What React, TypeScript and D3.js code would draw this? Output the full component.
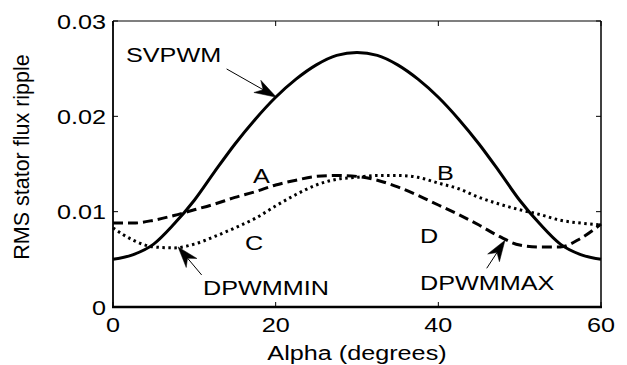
import React from "react";
import * as d3 from "d3";

// Alpha sampled every 2.5 degrees over one 60-degree sector
const alpha = [
  0, 2.5, 5, 7.5, 10, 12.5, 15, 17.5, 20, 22.5, 25, 27.5, 30,
  32.5, 35, 37.5, 40, 42.5, 45, 47.5, 50, 52.5, 55, 57.5, 60,
];

const svpwm = [
  0.005, 0.0055, 0.0066, 0.0087, 0.0112, 0.0142, 0.0171, 0.0197, 0.022, 0.0239, 0.0254, 0.0264, 0.0267,
  0.0264, 0.0254, 0.0239, 0.022, 0.0197, 0.0171, 0.0142, 0.0112, 0.0087, 0.0066, 0.0055, 0.005,
];

const dpwmmax = [
  0.0088, 0.0088, 0.0091, 0.0096, 0.0102, 0.0108, 0.0115, 0.0121, 0.0128, 0.0133, 0.0137, 0.0138, 0.0137,
  0.0133, 0.0126, 0.0117, 0.0107, 0.0097, 0.0086, 0.0074, 0.0065, 0.0063, 0.0063, 0.0072, 0.0087,
];

const dpwmmin = [
  0.0083, 0.007, 0.0063, 0.0062, 0.0066, 0.0074, 0.0083, 0.0093, 0.0106, 0.0118, 0.0128, 0.0134, 0.0136,
  0.0138, 0.0138, 0.0136, 0.013, 0.0124, 0.0115, 0.0108, 0.0102, 0.0097, 0.0091, 0.0088, 0.0086,
];

const xTicks = [0, 20, 40, 60];
const yTicks = [0, 0.01, 0.02, 0.03];
const yTickLabels = ["0", "0.01", "0.02", "0.03"];

const W = 627;
const H = 365;
const FONT = "'Liberation Sans', Arial, Helvetica, sans-serif";
const FS = 21;
const SX = 1.2;

const x = d3.scaleLinear().domain([0, 60]).range([113, 601]);
const y = d3.scaleLinear().domain([0, 0.03]).range([307, 21]);

type Pt = [number, number];

function Label({ px, py, text, anchor = "start" }: { px: number; py: number; text: string; anchor?: string }) {
  return (
    <text
      transform={`translate(${px},${py}) scale(${SX},1)`}
      textAnchor={anchor}
      fontFamily={FONT}
      fontSize={FS}
      fill="#000"
    >
      {text}
    </text>
  );
}

function Arrow({ tail, tip, len = 20, width = 14 }: { tail: Pt; tip: Pt; len?: number; width?: number }) {
  const [x1, y1] = [x(tail[0]), y(tail[1])];
  const [x2, y2] = [x(tip[0]), y(tip[1])];
  const dx = x2 - x1;
  const dy = y2 - y1;
  const L = Math.hypot(dx, dy);
  const ux = dx / L;
  const uy = dy / L;
  const nx = -uy;
  const ny = ux;
  const bx = x2 - ux * len;
  const by = y2 - uy * len;
  const notchX = x2 - ux * len * 0.7;
  const notchY = y2 - uy * len * 0.7;
  const head = `M${x2},${y2} L${bx + (nx * width) / 2},${by + (ny * width) / 2} L${notchX},${notchY} L${bx - (nx * width) / 2},${by - (ny * width) / 2} Z`;
  return (
    <g>
      <line x1={x1} y1={y1} x2={notchX} y2={notchY} stroke="#000" strokeWidth={1} />
      <path d={head} fill="#000" stroke="#000" strokeWidth={0.5} strokeLinejoin="miter" />
    </g>
  );
}

export default function App() {
  const line = d3
    .line<number>()
    .x((_, i) => x(alpha[i]))
    .y((d) => y(d))
    .curve(d3.curveMonotoneX);

  const [x0, x1] = x.range();
  const [yb, yt] = y.range();

  return (
    <svg
      width={W}
      height={H}
      viewBox={`0 0 ${W} ${H}`}
      style={{ position: "absolute", left: 0, top: 0, background: "#fff" }}
    >
      <rect x={0} y={0} width={W} height={H} fill="#fff" />

      {/* curves */}
      <path d={line(svpwm) ?? ""} fill="none" stroke="#000" strokeWidth={3} strokeLinejoin="round" />
      <path d={line(dpwmmax) ?? ""} fill="none" stroke="#000" strokeWidth={3} strokeDasharray="10,5" />
      <path d={line(dpwmmin) ?? ""} fill="none" stroke="#000" strokeWidth={3} strokeDasharray="2.5,3.5" />

      {/* axes box */}
      <line x1={x0} y1={yt} x2={x1} y2={yt} stroke="#000" strokeWidth={1.2} />
      <line x1={x1} y1={yt} x2={x1} y2={yb} stroke="#000" strokeWidth={1.5} />
      <line x1={x0} y1={yt} x2={x0} y2={yb} stroke="#000" strokeWidth={1.8} />
      <line x1={x0 - 1} y1={yb} x2={x1 + 1} y2={yb} stroke="#000" strokeWidth={2.5} />

      {/* ticks */}
      {xTicks.map((t) => (
        <g key={`xt${t}`}>
          <line x1={x(t)} y1={yb} x2={x(t)} y2={yb - 5} stroke="#000" strokeWidth={1} />
          <line x1={x(t)} y1={yt} x2={x(t)} y2={yt + 5} stroke="#000" strokeWidth={1} />
          <Label px={x(t)} py={332} text={String(t)} anchor="middle" />
        </g>
      ))}
      {yTicks.map((t, i) => (
        <g key={`yt${t}`}>
          <line x1={x0} y1={y(t)} x2={x0 + 5} y2={y(t)} stroke="#000" strokeWidth={1} />
          <line x1={x1} y1={y(t)} x2={x1 - 5} y2={y(t)} stroke="#000" strokeWidth={1} />
          <Label px={106} py={y(t) + 7.5} text={yTickLabels[i]} anchor="end" />
        </g>
      ))}

      {/* axis titles */}
      <Label px={(x0 + x1) / 2} py={360} text="Alpha (degrees)" anchor="middle" />
      <text
        transform={`translate(29,157) rotate(-90)`}
        textAnchor="middle"
        fontFamily={FONT}
        fontSize={21.5}
        fill="#000"
      >
        RMS stator flux ripple
      </text>

      {/* annotations */}
      <Label px={126} py={62} text="SVPWM" />
      <Arrow tail={[13.97, 0.02497]} tip={[20.1, 0.022]} len={22} width={14} />

      <Label px={253} py={183} text="A" />
      <Label px={437} py={180} text="B" />
      <Label px={245} py={250} text="C" />
      <Label px={420} py={243} text="D" />

      <Label px={203} py={295} text="DPWMMIN" />
      <Arrow tail={[10.9, 0.00336]} tip={[8.0, 0.0063]} len={21} width={14} />

      <Label px={420} py={290} text="DPWMMAX" />
      <Arrow tail={[45.95, 0.00406]} tip={[48.2, 0.007]} len={21} width={14} />
    </svg>
  );
}
